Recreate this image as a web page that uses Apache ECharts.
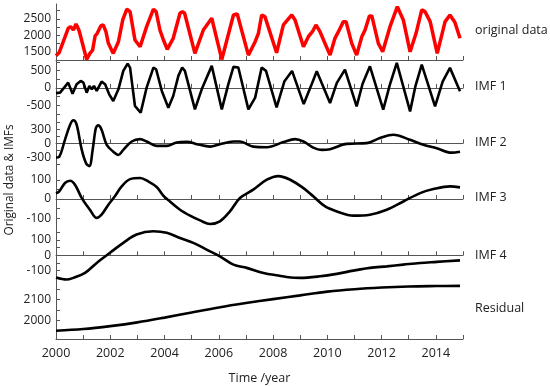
<!DOCTYPE html>
<html><head><meta charset="utf-8">
<script src="https://cdn.jsdelivr.net/npm/echarts@6/dist/echarts.min.js"></script>
<style>html,body{margin:0;padding:0;background:#fff}#c{width:550px;height:386px}</style>
</head><body><div id="c"></div>
<script>
const origT=[2000.00,2000.12,2000.45,2000.54,2000.64,2000.74,2000.85,2001.13,2001.25,2001.35,2001.44,2001.52,2001.65,2001.74,2001.84,2001.93,2002.11,2002.30,2002.46,2002.61,2002.73,2002.91,2003.10,2003.34,2003.59,2003.69,2003.83,2003.96,2004.10,2004.32,2004.57,2004.66,2004.74,2005.12,2005.43,2005.74,2006.11,2006.54,2006.68,2007.09,2007.34,2007.46,2007.58,2007.70,2008.13,2008.38,2008.69,2008.81,2009.12,2009.30,2009.45,2009.58,2009.73,2010.10,2010.28,2010.41,2010.59,2010.69,2010.90,2011.08,2011.27,2011.39,2011.55,2011.64,2011.88,2012.04,2012.31,2012.58,2012.80,2013.05,2013.27,2013.48,2013.60,2013.79,2014.05,2014.34,2014.52,2014.70,2014.89];
const origV=[1380,1480,2216,2265,2164,2347,2150,1267,1451,1552,1980,2063,2286,2317,2112,1757,1451,1806,2469,2796,2723,1858,1653,2265,2796,2723,2164,1858,1573,1910,2674,2723,2674,1451,2164,2521,1267,2622,2653,1399,1806,2063,2622,2570,1470,2317,2622,2469,1653,1959,2112,2317,2112,1399,1910,2112,2418,2418,1757,1399,1959,2164,2592,2592,1757,1500,2265,2876,2469,1500,2063,2775,2723,2418,1451,2418,2622,2400,1910];

const imf1T=[2000.00,2000.15,2000.45,2000.61,2000.76,2000.91,2001.01,2001.13,2001.23,2001.32,2001.40,2001.50,2001.68,2001.81,2001.96,2002.11,2002.30,2002.48,2002.64,2002.73,2002.91,2003.12,2003.34,2003.59,2003.69,2003.90,2004.14,2004.32,2004.51,2004.65,2004.75,2005.12,2005.37,2005.74,2006.11,2006.35,2006.54,2006.72,2007.09,2007.34,2007.58,2007.74,2008.13,2008.42,2008.70,2009.13,2009.40,2009.61,2010.10,2010.35,2010.65,2011.08,2011.30,2011.57,2012.06,2012.30,2012.56,2013.05,2013.25,2013.48,2013.97,2014.25,2014.52,2014.89];
const imf1V=[-150,-136,153,-165,104,202,153,-136,58,-40,58,-87,182,104,-185,-376,-40,491,702,587,-520,-714,9,587,538,-87,-569,-231,347,590,491,-618,-40,636,-618,104,607,587,-618,-280,587,491,-560,195,490,-465,60,480,-434,145,529,-531,120,624,-627,80,722,-676,60,673,-531,180,578,-98];

const imf2T=[2000.00,2000.12,2000.33,2000.52,2000.64,2000.76,2000.95,2001.11,2001.23,2001.35,2001.47,2001.56,2001.68,2001.87,2002.11,2002.30,2002.48,2002.79,2003.10,2003.34,2003.71,2004.08,2004.45,2004.82,2005.19,2005.68,2006.04,2006.54,2006.78,2007.27,2007.77,2008.38,2008.81,2009.12,2009.48,2009.79,2010.10,2010.71,2011.45,2011.94,2012.43,2013.05,2013.54,2014.03,2014.58,2014.89];
const imf2V=[-300,-283,75,396,490,396,-139,-424,-482,-139,326,380,289,-32,-176,-246,-139,39,90,39,-54,-54,17,32,-17,-69,-17,39,39,-69,-82,26,90,39,-90,-139,-124,-11,4,111,182,75,-32,-103,-197,-176];

const imf3T=[2000.00,2000.12,2000.33,2000.52,2000.70,2000.95,2001.25,2001.50,2001.68,2001.93,2002.17,2002.42,2002.73,2003.10,2003.40,2003.71,2003.96,2004.20,2004.57,2004.94,2005.31,2005.68,2006.04,2006.41,2006.78,2007.27,2007.77,2008.20,2008.63,2009.12,2009.48,2009.92,2010.35,2010.96,2011.57,2012.19,2012.80,2013.42,2013.91,2014.52,2014.89];
const imf3V=[30,40,84,96,75,5,-56,-99,-82,-30,14,66,104,110,92,63,17,-13,-56,-87,-112,-131,-117,-65,5,49,101,120,101,57,14,-39,-65,-87,-82,-56,-13,31,52,66,61];

const imf4T=[2000.00,2000.39,2000.64,2001.07,2001.50,2001.99,2002.48,2002.97,2003.59,2004.08,2004.57,2005.06,2005.55,2006.04,2006.54,2007.03,2007.65,2008.19,2008.50,2008.99,2009.73,2010.35,2010.96,2011.57,2012.19,2012.80,2013.42,2014.03,2014.89];
const imf4V=[-145,-158,-147,-115,-50,16,81,135,156,146,113,81,37,-7,-61,-82,-115,-132,-141,-147,-137,-121,-100,-82,-72,-61,-50,-43,-33];

const resT=[2000,2001,2002,2003,2004,2005,2006,2007,2008,2009,2010,2011,2012,2013,2014,2014.89];
const resV=[1950,1958,1972,1990,2013,2038,2062,2083,2102,2120,2138,2150,2158,2163,2165,2166];

const panelNames=['original data','IMF 1','IMF 2','IMF 3','IMF 4','Residual'];
const xTicks=[2000,2001,2002,2003,2004,2005,2006,2007,2008,2009,2010,2011,2012,2013,2014,2015];
const xLabels=[2000,2002,2004,2006,2008,2010,2012,2014];
const yTicks=[[1500,1750,2000,2250,2500,2750],[-750,-500,-250,0,250,500,750],[-450,-300,-150,0,150,300,450],[-100,-50,0,50,100],[-150,-100,-50,0,50,100,150],[1950,2000,2050,2100,2150]];
const yLabels=[[1500,2000,2500],[-500,0,500],[-300,0,300],[-100,0,100],[-100,0,100],[2000,2100]];

const zip=(t,v)=>t.map((x,i)=>[x,v[i]]);
const seriesData=[zip(origT,origV),zip(imf1T,imf1V),zip(imf2T,imf2V),zip(imf3T,imf3V),zip(imf4T,imf4V),zip(resT,resV)];

const tops=[4,60,115,171.7,226.7,281.7];
const bottoms=[60,115,171.7,226.7,281.7,341.4];
const yMin=[1250,-780,-600,-145,-172,1910];
const yMax=[2955,805,600,143,186,2186];
const labelY=[33,89,145,200,258,311];
const FONT='Open Sans';
const axisColor='#555';

const grids=[],xAxes=[],yAxes=[],series=[],graphics=[];
for(let i=0;i<6;i++){
  grids.push({left:56,width:407,top:tops[i],height:bottoms[i]-tops[i]});
  const last=i===5;
  xAxes.push({type:'value',gridIndex:i,min:2000,max:2015,
    axisLine:{show:true,lineStyle:{color:axisColor,width:1}},
    axisTick:{show:true,inside:true,length:4,customValues:xTicks,lineStyle:{color:axisColor}},
    axisLabel:{show:last,customValues:xLabels,interval:0,hideOverlap:false,formatter:v=>String(Math.round(v)),
      color:'#222',fontFamily:FONT,fontSize:12.5,margin:8},
    splitLine:{show:false},
    name:last?'Time /year':'',nameLocation:'middle',nameGap:33,
    nameTextStyle:{color:'#222',fontFamily:FONT,fontSize:12.5}});
  yAxes.push({type:'value',gridIndex:i,min:yMin[i],max:yMax[i],
    axisLine:{show:true,lineStyle:{color:axisColor,width:1}},
    axisTick:{show:true,inside:true,length:4,customValues:yTicks[i],lineStyle:{color:axisColor}},
    axisLabel:{customValues:yLabels[i],interval:0,hideOverlap:false,formatter:v=>String(Math.round(v)),
      color:'#222',fontFamily:FONT,fontSize:12,lineHeight:12,margin:5},
    splitLine:{show:false}});
  series.push({type:'line',xAxisIndex:i,yAxisIndex:i,data:seriesData[i],showSymbol:false,
    smooth:i>=2?0.35:false,
    lineStyle:{color:i===0?'#ff0000':'#000',width:i===0?3.5:2.6},
    clip:false,animation:false});
  graphics.push({type:'text',left:475,top:labelY[i]-9,style:{text:panelNames[i],fill:'#222',font:'12.5px "'+FONT+'"'}});
}
graphics.push({type:'text',x:10,y:180,rotation:Math.PI/2,style:{text:'Original data & IMFs',fill:'#222',font:'11.8px "'+FONT+'"',align:'center',verticalAlign:'middle'}});

const chart=echarts.init(document.getElementById('c'),null,{renderer:'canvas'});
chart.setOption({animation:false,backgroundColor:'#fff',grid:grids,xAxis:xAxes,yAxis:yAxes,series:series,graphic:graphics});
</script></body></html>
